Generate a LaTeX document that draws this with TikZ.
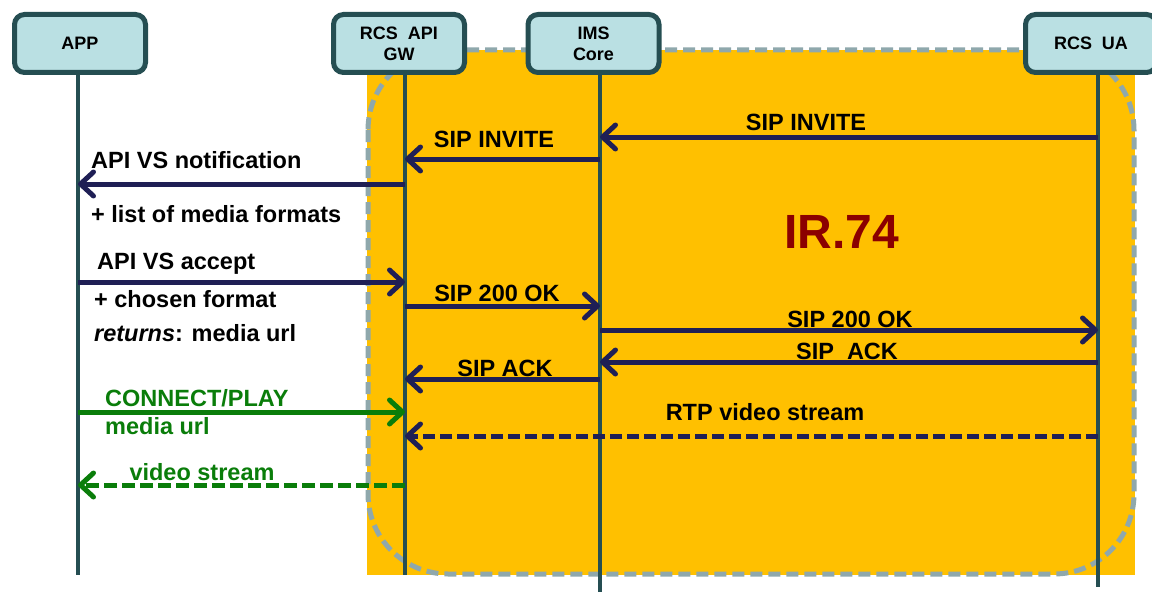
\documentclass[tikz,border=0pt]{standalone}
\usepackage{fontspec}
\setmainfont{Liberation Sans}
\usetikzlibrary{arrows.meta}
\definecolor{boxfill}{HTML}{BAE0E3}
\definecolor{boxline}{HTML}{254E52}
\definecolor{amber}{HTML}{FFC000}
\definecolor{navy}{HTML}{1F1F55}
\definecolor{grn}{HTML}{0A7D0A}
\definecolor{dashgray}{HTML}{8FA8AC}
\definecolor{irred}{HTML}{8B0000}
\begin{document}
\begin{tikzpicture}[x=1pt,y=-1pt,
  actor/.style={draw=boxline, line width=5pt, fill=boxfill, rounded corners=10pt,
    minimum width=131pt, minimum height=58pt, inner sep=0pt, align=center,
    font=\fontsize{18}{21}\selectfont\bfseries},
  life/.style={draw=boxline, line width=4.5pt},
  tip/.style={-{Straight Barb[round,length=13pt,width=24pt]}},
  msg/.style={draw=navy, line width=5pt, tip},
  rtp/.style={msg, dash pattern=on 12pt off 5pt},
  gmsg/.style={draw=grn, line width=5pt, tip},
  gdash/.style={gmsg, dash pattern=on 13pt off 5pt},
  lbl/.style={inner sep=0pt, font=\fontsize{23.5}{27}\selectfont\bfseries},
  glbl/.style={lbl, text=grn}
]
\clip (0,0) rectangle (1152,594);
\useasboundingbox (0,0) rectangle (1152,594);

% IR.74 zone
\fill[amber] (367,50) rectangle (1135,575);
\draw[dashgray, line width=5pt, dash pattern=on 12pt off 6pt, rounded corners=80pt]
  (368,50) rectangle (1134,574);
\node[text=irred, inner sep=0pt, anchor=base, font=\fontsize{48}{52}\selectfont\bfseries] (ir) at (842,248) {IR.74};

% lifelines
\coordinate (appTop) at (78,75);  \coordinate (appBot) at (78,575);
\coordinate (gwTop) at (405,75);  \coordinate (gwBot) at (405,575);
\coordinate (imsTop) at (600,75); \coordinate (imsBot) at (600,592);
\coordinate (uaTop) at (1098,75); \coordinate (uaBot) at (1098,587);
\draw[life] (appTop) -- (appBot);
\draw[life] (gwTop) -- (gwBot);
\draw[life] (imsTop) -- (imsBot);
\draw[life] (uaTop) -- (uaBot);

% actors
\node[actor] (app) at (80,43.5) {APP};
\node[actor] (gw) at (399,43.5) {RCS\ \ API\\GW};
\node[actor] (ims) at (593.5,43.5) {IMS\\Core};
\node[actor] (ua) at (1091,43.5) {RCS\ \ UA};

% messages
\draw[msg] (uaTop |- 0,137) -- (imsTop |- 0,137);
\node[lbl, anchor=base] (l1) at (806,131) {SIP INVITE};

\draw[msg] (imsTop |- 0,159) -- (gwTop |- 0,159);
\node[lbl, anchor=base] (l2) at (494,147) {SIP INVITE};

\draw[msg] (gwTop |- 0,184) -- (appTop |- 0,184);
\node[lbl, anchor=base west] (l3) at (91,168) {API VS notification};
\node[lbl, anchor=base west] (l4) at (91,222) {+ list of media formats};

\draw[msg] (appTop |- 0,282) -- (gwTop |- 0,282);
\node[lbl, anchor=base west] (l5) at (97,269) {API VS accept};
\node[lbl, anchor=base west] (l6) at (94,307) {+ chosen format};
\node[lbl, anchor=base west] (l7) at (94,341) {\itshape returns\upshape: media url};

\draw[msg] (gwTop |- 0,306) -- (imsTop |- 0,306);
\node[lbl, anchor=base] (l8) at (497,301) {SIP 200 OK};

\draw[msg] (imsTop |- 0,330) -- (uaTop |- 0,330);
\node[lbl, anchor=base] (l9) at (850,327) {SIP 200 OK};

\draw[msg] (uaTop |- 0,362) -- (imsTop |- 0,362);
\node[lbl, anchor=base] (l10) at (847,359) {SIP\ \ ACK};

\draw[msg] (imsTop |- 0,379) -- (gwTop |- 0,379);
\node[lbl, anchor=base] (l11) at (505,376) {SIP ACK};

\draw[gmsg] (appTop |- 0,412) -- (gwTop |- 0,412);
\node[glbl, anchor=base west] (l12) at (105,406) {CONNECT/PLAY};
\node[glbl, anchor=base west] (l13) at (105,434) {media url};

\draw[rtp] (uaTop |- 0,436) -- (gwTop |- 0,436);
\node[lbl, anchor=base] (l14) at (765,420) {RTP video stream};

\draw[gdash] (gwTop |- 0,485) -- (appTop |- 0,485);
\node[glbl, anchor=base] (l15) at (202,480) {video stream};
\end{tikzpicture}
\end{document}
